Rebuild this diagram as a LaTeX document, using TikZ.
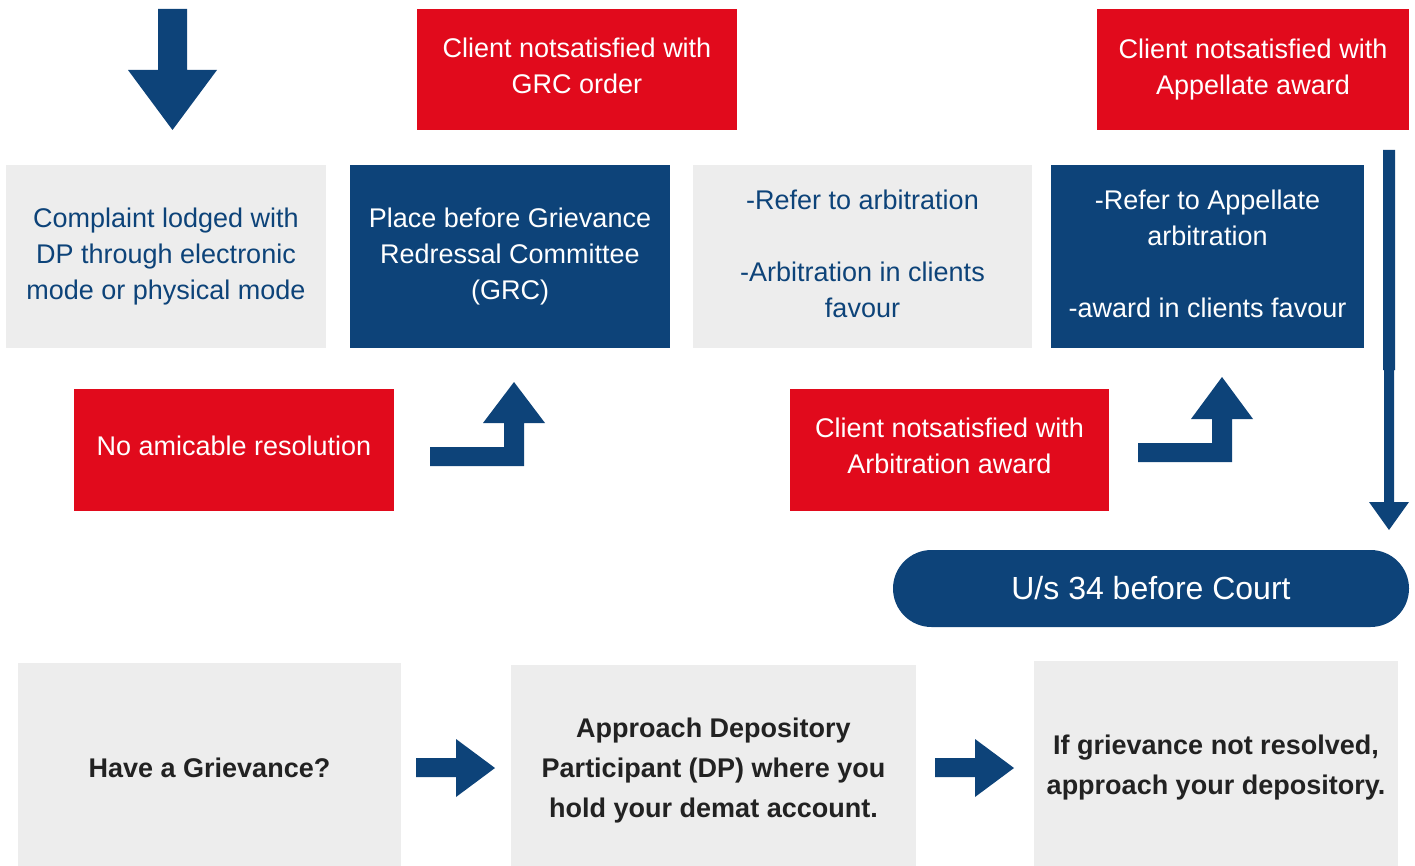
\documentclass[tikz,border=0pt]{standalone}
\usepackage{fontspec}
\setmainfont{Liberation Sans}
\definecolor{dblue}{HTML}{0D4379}
\definecolor{dred}{HTML}{E10A1C}
\definecolor{lgray}{HTML}{EDEDED}
\definecolor{dtext}{HTML}{222222}
\begin{document}
\begin{tikzpicture}[x=1pt,y=-1pt,
  box/.style={rectangle,inner sep=0pt},
  graybox/.style={box,fill=lgray},
  bluebox/.style={box,fill=dblue},
  redbox/.style={box,fill=dred},
  txt/.style={inner sep=0pt,align=center,font=\fontsize{27}{36}\selectfont},
  btxt/.style={txt,text=dtext,font=\fontsize{27}{40}\selectfont\bfseries},
  blockarrow/.style={fill=dblue,draw=none}]
\useasboundingbox (0,0) rectangle (1415,866);

% top row boxes
\node[graybox,minimum width=320pt,minimum height=183pt] (b1) at (166,256.5) {};
\node[txt,text=dblue] (t1) at (b1.center)
  {Complaint lodged with\\DP through electronic\\mode or physical mode};
\node[bluebox,minimum width=320pt,minimum height=183pt] (b2) at (510,256.5) {};
\node[txt,text=white] (t2) at (b2.center)
  {Place before Grievance\\Redressal Committee\\(GRC)};
\node[graybox,minimum width=339pt,minimum height=183pt] (b3) at (862.5,256.5) {};
\node[txt,text=dblue] (t3) at ([yshift=3pt]b3.center)
  {-Refer to arbitration\\[36pt]-Arbitration in clients\\favour};
\node[bluebox,minimum width=313pt,minimum height=183pt] (b4) at (1207.5,256.5) {};
\node[txt,text=white] (t4) at ([yshift=3pt]b4.center)
  {-Refer to Appellate\\arbitration\\[36pt]-award in clients favour};

% red boxes
\node[redbox,minimum width=320pt,minimum height=121pt] (r1) at (577,69.5) {};
\node[txt,text=white] (tr1) at ([yshift=4pt]r1.center)
  {Client notsatisfied with\\GRC order};
\node[redbox,minimum width=312pt,minimum height=121pt] (r2) at (1253,69.5) {};
\node[txt,text=white] (tr2) at (r2.center)
  {Client notsatisfied with\\Appellate award};
\node[redbox,minimum width=320pt,minimum height=122pt] (r3) at (234,450) {};
\node[txt,text=white] (tr3) at ([yshift=4pt]r3.center)
  {No amicable resolution};
\node[redbox,minimum width=319pt,minimum height=122pt] (r4) at (949.5,450) {};
\node[txt,text=white] (tr4) at ([yshift=4pt]r4.center)
  {Client notsatisfied with\\Arbitration award};

% court pill
\node[bluebox,rounded corners=38.5pt,minimum width=516pt,minimum height=77pt] (court) at (1151,588.5) {};
\node[txt,text=white,font=\fontsize{32}{36}\selectfont] (tc) at (court.center) {U/s 34 before Court};

% bottom boxes
\node[graybox,minimum width=383pt,minimum height=203pt] (g1) at (209.5,764.5) {};
\node[btxt] (tg1) at ([yshift=-3pt]g1.center) {Have a Grievance?};
\node[graybox,minimum width=405pt,minimum height=201pt] (g2) at (713.5,765.5) {};
\node[btxt] (tg2) at ([yshift=-5pt]g2.center)
  {Approach Depository\\Participant (DP) where you\\hold your demat account.};
\node[graybox,minimum width=364pt,minimum height=205pt] (g3) at (1216,763.5) {};
\node[btxt] (tg3) at ([yshift=-4pt]g3.center)
  {If grievance not resolved,\\approach your depository.};

% block arrows
\fill[blockarrow] (158,9) -- (187,9) -- (187,70) -- (217,70) -- (172.5,130) -- (128,70) -- (158,70) -- cycle;
\fill[blockarrow] (430,447) -- (504,447) -- (504,423) -- (483,423) -- (514,382) -- (545,423) -- (524,423) -- (524,466) -- (430,466) -- cycle;
\fill[blockarrow] (1138,443) -- (1212,443) -- (1212,419) -- (1191,419) -- (1222,377) -- (1253,419) -- (1232,419) -- (1232,462) -- (1138,462) -- cycle;
\fill[blockarrow] (1383,150) -- (1395,150) -- (1395,370) -- (1394,370) -- (1394,502) -- (1409,502) -- (1389,530) -- (1369,502) -- (1384,502) -- (1384,370) -- (1383,370) -- cycle;
\fill[blockarrow] (416,758) -- (456,758) -- (456,739) -- (495,768) -- (456,797) -- (456,777) -- (416,777) -- cycle;
\fill[blockarrow] (935,758) -- (975,758) -- (975,739) -- (1014,768) -- (975,797) -- (975,777) -- (935,777) -- cycle;
\end{tikzpicture}
\end{document}
